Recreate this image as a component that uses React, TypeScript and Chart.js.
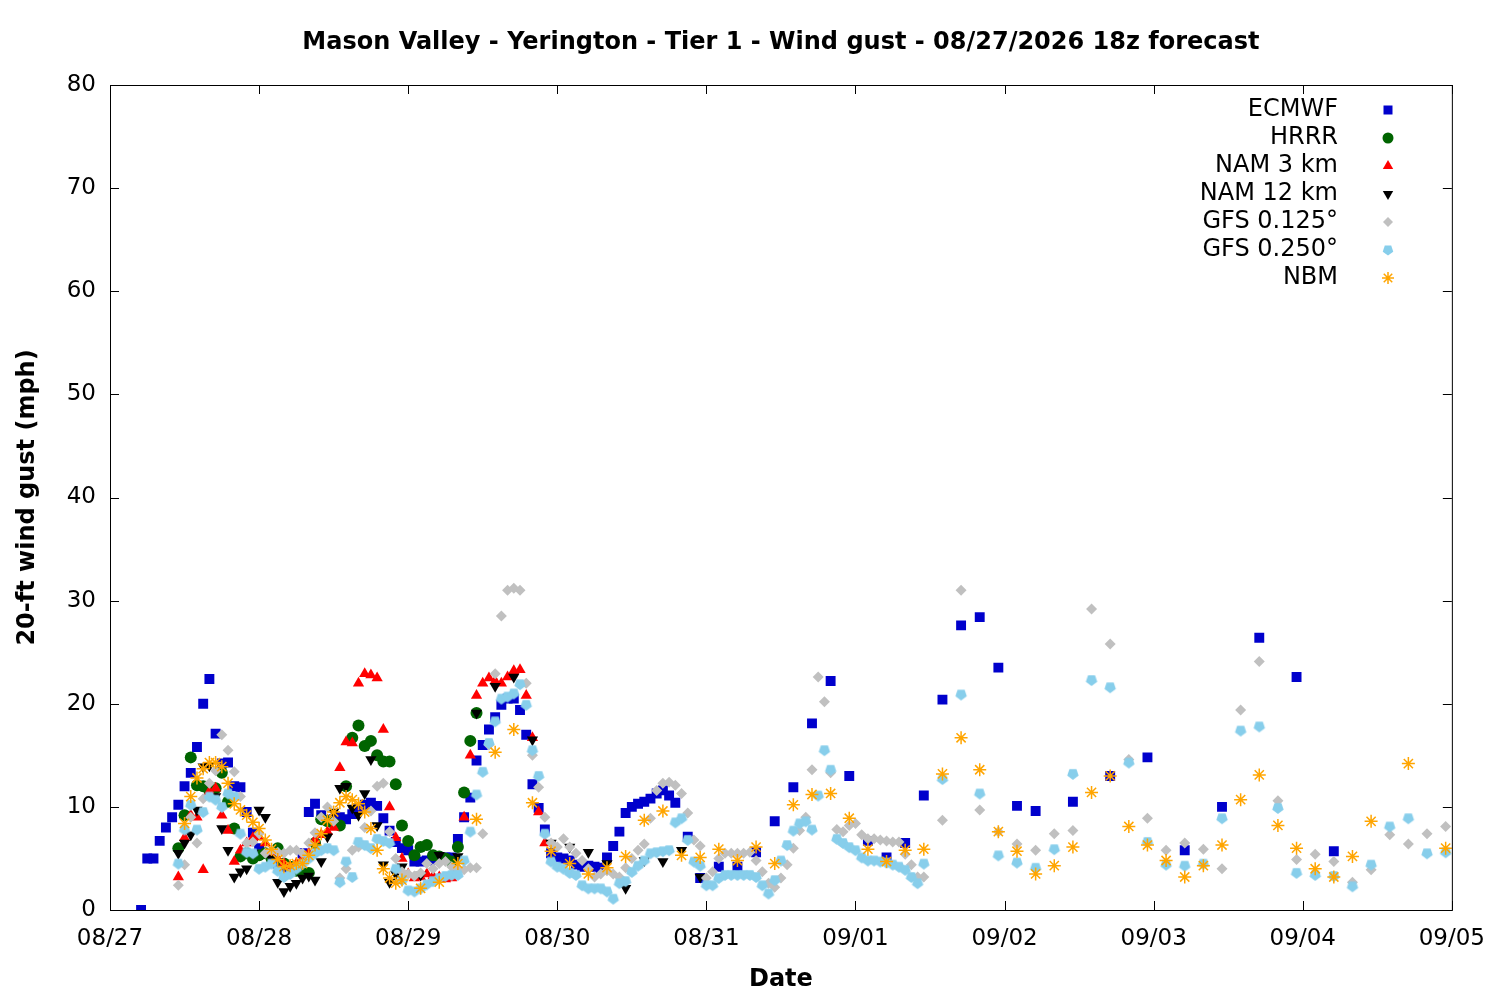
import { useEffect, useRef } from "react"
import { Chart, registerables } from "chart.js"

Chart.register(...registerables)

// x axis is hours since 08/27 00
const dateLabels = ["08/27", "08/28", "08/29", "08/30", "08/31", "09/01", "09/02", "09/03", "09/04", "09/05"]
const title = "Mason Valley - Yerington - Tier 1 - Wind gust - 08/27/2026 18z forecast"

const hourly = (a: number, b: number) => steps(a, b, 1)
function steps(a: number, b: number, s: number) {
  const out: number[] = []
  for (let h = a; h <= b; h += s) out.push(h)
  return out
}

const ecmwfHours = [5, ...hourly(6, 91), 93, 95, ...steps(98, 149, 3), ...steps(155, 197, 6)]
const ecmwfGust = [
  0,
  5, 5, 6.7, 8, 9, 10.2, 12, 13.3, 15.8, 20, 22.4, 17.1, 14.2, 14.3, 12, 11.9, 9.5, 7.5, 6, 5.5,
  5, 4.5, 4.2, 4, 4.2, 5.5, 9.5, 10.3, 9.2, 8.7,
  8.8, 9, 8.8, 9.3, 9.8, 10.2, 10.4, 10.1, 8.9, 7.7,
  6.6, 6, 5.8, 4.7, 4.7, 4.8, 4.9, 5, 5.1, 5.1,
  6.9, 9, 10.9, 14.5, 16, 17.5, 18.7, 19.9, 20.5, 20.5,
  19.4, 17, 12.2, 9.9, 7.8, 5.5, 5.1, 5, 4.8, 4.4,
  4.2, 4.3, 4.2, 4.1, 5.1, 6.2, 7.6, 9.4, 10, 10.3,
  10.5, 10.8, 11.3, 11.6, 11.1, 10.4,
  7.1, 3.1,
  4.2, 4.2, 5.6, 8.6, 11.9, 18.1, 22.2, 13, 6.7, 5.1, 6.5, 11.1, 20.4, 27.6, 28.4, 23.5, 10.1, 9.6,
  10.5, 13, 14.8, 5.8, 10, 26.4, 22.6, 5.7,
]

const hrrrHours = hourly(11, 59)
const hrrrGust = [
  6, 9.2, 14.8, 12.1, 12, 11.6, 11.8, 13.3, 10.5, 7.9,
  5.2, 5.5, 5, 5.3, 5.5, 5, 6, 4.5, 4.2, 3.8,
  3.6, 3.6, 6.5, 8.8, 8.6, 8.4, 8.2, 12, 16.7, 17.9,
  15.9, 16.4, 15, 14.4, 14.4, 12.2, 8.2, 6.7, 5.3, 6.1,
  6.3, 5.3, 5.2, 5, 4.7, 6.1, 11.4, 16.4, 19.1,
]

const nam3Hours = hourly(11, 70)
const nam3Gust = [
  3.2, 7, 9.2, 9, 3.9, 11.5, 11.8, 9.2, 7.7, 4.7,
  5.8, 6.5, 7, 7.1, 6.5, 5.5, 5, 4.5, 4.2, 4.5,
  5, 5.5, 6.8, 7.3, 7.6, 8, 13.8, 16.3, 16.2, 22,
  22.9, 22.8, 22.5, 17.5, 10, 7, 5, 3.5, 3.1, 3.2,
  3.5, 3.3, 3.2, 3, 3.1, 4, 9, 15, 20.8, 22,
  22.5, 22.2, 22, 22.6, 23.2, 23.3, 20.8, 16.7, 9.5, 6.5,
]

const nam12Hours = [...hourly(11, 47), ...steps(50, 95, 3)]
const nam12Gust = [
  5.5, 6.5, 7.3, 9.7, 13.9, 14, 11, 7.9, 5.8, 3.2,
  3.7, 4, 5.5, 9.7, 9, 5, 2.7, 1.8, 2.3, 2.6,
  3.1, 3.3, 2.9, 4.7, 7.1, 9.5, 11.8, 12, 9.9, 9.2,
  11.3, 14.6, 8.2, 4.4, 2.7, 3.5, 4.2,
  3.4, 5.3, 5.2, 19.1, 21.7, 22.6, 16.5, 6.5, 6.1, 5.6, 4.5, 2.1, 4.8, 4.7, 5.8, 3.2,
]

const gfs125Hours = [...hourly(11, 131), ...steps(134, 215, 3)]
const gfs125Gust = [
  2.4, 4.4, 9, 6.5, 10.8, 12.3, 13.5, 17, 15.5, 13.4,
  11, 6.5, 6.6, 7.4, 5.5, 5.8, 5.6, 5.5, 5.8, 5.8,
  5.5, 6.5, 7.5, 9, 10, 8.6, 3.1, 4, 5.8, 6.1,
  8, 9.6, 12, 12.3, 7.6, 5, 3.7, 3.5, 3.3, 3.6,
  4.5, 4, 4.5, 4.7, 4.2, 3.9, 3.9, 4.1, 4.1, 7.4,
  16, 22.9, 28.5, 31, 31.2, 31, 22, 15, 11.9, 9,
  6.5, 6.1, 6.9, 6.1, 5.5, 4.8, 4, 3.2, 3.5, 3.8,
  3.5, 3.2, 4.1, 5, 5.8, 6.4, 8.9, 11.6, 12.3, 12.4,
  12.1, 11.3, 9.4, 6.8, 6.2, 3.1, 3.7, 5, 5.5, 5.5,
  5.5, 5.5, 5.6, 4.8, 3.7, 2.6, 2.2, 3.1, 4.4, 6,
  7.7, 9, 13.6, 22.6, 20.2, 13.3, 7.8, 7.6, 8.2, 8.4,
  7.3, 6.9, 6.9, 6.8, 6.7, 6.6, 6.6, 5.4, 4.4, 3.2,
  3.2,
  8.7, 31, 9.7, 7.6, 6.4, 5.8, 7.4, 7.7, 29.2, 25.8, 14.6, 8.9, 5.8, 6.5,
  5.9, 4, 19.4, 24.1, 10.6, 4.9, 5.4, 4.7, 2.7, 3.9, 7.3, 6.4, 7.4, 8.1,
]

const gfs250Hours = [...hourly(11, 131), ...steps(134, 215, 3)]
const gfs250Gust = [
  4.5, 7.8, 10.2, 7.8, 9.5, 11, 10.7, 10, 11.3, 11,
  7.4, 5.6, 5.5, 4, 4.2, 4.5, 3.8, 3.2, 3.5, 4,
  4.5, 5, 5.5, 5.8, 6, 5.8, 2.7, 4.7, 3.2, 6.6,
  6.3, 6, 6.9, 6.7, 6.5, 4, 2.9, 1.9, 1.8, 2.1,
  2.5, 2.8, 3.1, 3.3, 3.4, 3.4, 4.8, 7.6, 11.2, 13.4,
  16.2, 18.3, 20.5, 20.7, 21, 21.9, 19.9, 15.5, 13, 7.4,
  4.7, 4.2, 4, 3.6, 3.4, 2.4, 2.1, 2.1, 2.1, 1.8,
  1.1, 2.6, 2.8, 3.7, 4.3, 4.8, 5.5, 5.6, 5.7, 5.8,
  8.5, 8.9, 6.8, 4.7, 4.3, 2.4, 2.4, 3.1, 3.4, 3.4,
  3.4, 3.4, 3.4, 3.2, 2.4, 1.6, 2.9, 4.8, 6.3, 7.7,
  8.4, 8.6, 7.8, 11.1, 15.5, 13.6, 6.9, 6.5, 6.1, 5.8,
  5.1, 4.8, 4.8, 4.7, 4.6, 4.4, 4.2, 3.9, 3.2, 2.6,
  4.5,
  12.7, 20.9, 11.3, 5.3, 4.6, 4.1, 5.9, 13.2, 22.3, 21.6, 14.3, 6.6, 4.4, 4.3,
  4.5, 8.9, 17.4, 17.8, 9.9, 3.6, 3.4, 3.3, 2.3, 4.4, 8.1, 8.9, 5.5, 5.6,
]

const nbmHours = [...hourly(12, 46), ...steps(47, 203, 3), 209, 215]
const nbmGust = [
  8.4, 11, 12.8, 13.7, 14.3, 14.3, 13.9, 12.3, 10.3, 9.7,
  9.2, 8.5, 7.9, 6.8, 5.9, 4.9, 4.2, 4.3, 4.5, 4.5,
  5.3, 6.3, 7.4, 8.7, 9.5, 10.4, 11, 10.7, 10.3, 9.5,
  7.9, 5.8, 4, 3.1, 2.6,
  2.9, 2.1, 2.7, 4.5, 8.8, 15.3, 17.5, 10.4, 5.7, 4.5,
  3.5, 4.1, 5.2, 8.7, 9.6, 5.3, 5.1, 5.9, 4.8, 6.1,
  4.5, 10.2, 11.2, 11.3, 8.9, 5.9, 4.7, 5.8, 5.9, 13.2,
  16.7, 13.6, 7.6, 5.7, 3.5, 4.3, 6.1, 11.4, 13, 8.1,
  6.3, 4.8, 3.2, 4.3, 6.3, 10.7, 13.1, 8.2, 6, 4,
  3.2, 5.2, 8.6,
  14.2, 6,
]

const FONT = "'DejaVu Sans', 'Liberation Sans', sans-serif"

type Series = {
  label: string
  hours: number[]
  gust: number[]
  color: string
  style: string
}

const series: Series[] = [
  { label: "ECMWF", hours: ecmwfHours, gust: ecmwfGust, color: "#0000cc", style: "square" },
  { label: "HRRR", hours: hrrrHours, gust: hrrrGust, color: "#006400", style: "circle" },
  { label: "NAM 3 km", hours: nam3Hours, gust: nam3Gust, color: "#ff0000", style: "up" },
  { label: "NAM 12 km", hours: nam12Hours, gust: nam12Gust, color: "#000000", style: "down" },
  { label: "GFS 0.125°", hours: gfs125Hours, gust: gfs125Gust, color: "#c0c0c0", style: "diamond" },
  { label: "GFS 0.250°", hours: gfs250Hours, gust: gfs250Gust, color: "#87ceeb", style: "pentagon" },
  { label: "NBM", hours: nbmHours, gust: nbmGust, color: "#ffa500", style: "star" },
]

function pentagonPath(ctx: CanvasRenderingContext2D, x: number, y: number, r: number) {
  ctx.beginPath()
  for (let i = 0; i < 5; i++) {
    const a = Math.PI / 2 + (i * 2 * Math.PI) / 5
    const px = x + Math.cos(a) * r
    const py = y + Math.sin(a) * r
    if (i === 0) ctx.moveTo(px, py)
    else ctx.lineTo(px, py)
  }
  ctx.closePath()
}

function makePentagon(color: string, r: number) {
  const size = Math.ceil(r * 2) + 2
  const c = document.createElement("canvas")
  c.width = size
  c.height = size
  const ctx = c.getContext("2d")!
  ctx.fillStyle = color
  pentagonPath(ctx, size / 2, size / 2, r)
  ctx.fill()
  return c
}

// draws one legend symbol by hand
function drawSymbol(ctx: CanvasRenderingContext2D, s: Series, x: number, y: number) {
  ctx.save()
  ctx.fillStyle = s.color
  ctx.strokeStyle = s.color
  ctx.beginPath()
  if (s.style === "square") {
    ctx.rect(x - 4.5, y - 4.5, 9, 9)
    ctx.fill()
  } else if (s.style === "circle") {
    ctx.arc(x, y, 5.5, 0, Math.PI * 2)
    ctx.fill()
  } else if (s.style === "up") {
    ctx.moveTo(x, y - 6)
    ctx.lineTo(x + 5.2, y + 3)
    ctx.lineTo(x - 5.2, y + 3)
    ctx.closePath()
    ctx.fill()
  } else if (s.style === "down") {
    ctx.moveTo(x, y + 6)
    ctx.lineTo(x + 5.2, y - 3)
    ctx.lineTo(x - 5.2, y - 3)
    ctx.closePath()
    ctx.fill()
  } else if (s.style === "diamond") {
    ctx.moveTo(x, y - 5)
    ctx.lineTo(x + 5, y)
    ctx.lineTo(x, y + 5)
    ctx.lineTo(x - 5, y)
    ctx.closePath()
    ctx.fill()
  } else if (s.style === "pentagon") {
    pentagonPath(ctx, x, y, 5.5)
    ctx.fill()
  } else {
    ctx.lineWidth = 1.5
    for (let i = 0; i < 4; i++) {
      const a = (i * Math.PI) / 4
      ctx.moveTo(x - Math.cos(a) * 6, y - Math.sin(a) * 6)
      ctx.lineTo(x + Math.cos(a) * 6, y + Math.sin(a) * 6)
    }
    ctx.stroke()
  }
  ctx.restore()
}

const decorPlugin = {
  id: "decor",
  afterDraw(chart: any) {
    const { ctx, chartArea } = chart
    const { left, right, top, bottom } = chartArea
    const xs = chart.scales.x
    const ys = chart.scales.y
    ctx.save()
    ctx.strokeStyle = "#000"
    ctx.lineWidth = 1
    ctx.strokeRect(left + 0.5, top + 0.5, right - left, bottom - top)

    // inward tick marks on all four sides
    ctx.beginPath()
    for (let v = 0; v <= 80; v += 10) {
      const y = Math.round(ys.getPixelForValue(v)) + 0.5
      ctx.moveTo(left, y)
      ctx.lineTo(left + 9, y)
      ctx.moveTo(right, y)
      ctx.lineTo(right - 9, y)
    }
    for (let h = 0; h <= 216; h += 24) {
      const x = Math.round(xs.getPixelForValue(h)) + 0.5
      ctx.moveTo(x, bottom)
      ctx.lineTo(x, bottom - 9)
      ctx.moveTo(x, top)
      ctx.lineTo(x, top + 9)
    }
    ctx.stroke()

    ctx.fillStyle = "#000"
    ctx.textAlign = "center"
    ctx.textBaseline = "middle"
    ctx.font = `bold 24px ${FONT}`
    ctx.fillText(title, (left + right) / 2, 43)
    ctx.fillText("Date", (left + right) / 2, 980)
    ctx.save()
    ctx.translate(28, (top + bottom) / 2)
    ctx.rotate(-Math.PI / 2)
    ctx.fillText("20-ft wind gust (mph)", 0, 0)
    ctx.restore()

    // key, gnuplot style: text right-aligned, symbol to the right
    ctx.font = `24px ${FONT}`
    ctx.textAlign = "right"
    series.forEach((s, i) => {
      const y = 110 + i * 28
      ctx.fillStyle = "#000"
      ctx.fillText(s.label, 1338, y)
      drawSymbol(ctx, s, 1388, y)
    })
    ctx.restore()
  },
}

export default function App() {
  const canvasRef = useRef<HTMLCanvasElement>(null)

  useEffect(() => {
    const canvas = canvasRef.current
    if (!canvas) return
    const pentagon = makePentagon("#87ceeb", 6)

    const datasets = series.map((s, i) => {
      const base: any = {
        label: s.label,
        data: s.hours.map((h, k) => ({ x: h, y: s.gust[k] })),
        showLine: false,
        backgroundColor: s.color,
        borderColor: s.color,
        borderWidth: 0,
        order: series.length - i,
      }
      if (s.style === "square") Object.assign(base, { pointStyle: "rect", pointRadius: 7 })
      if (s.style === "circle") Object.assign(base, { pointStyle: "circle", pointRadius: 6 })
      if (s.style === "up") Object.assign(base, { pointStyle: "triangle", pointRadius: 6.5 })
      if (s.style === "down") Object.assign(base, { pointStyle: "triangle", pointRadius: 6.5, rotation: 180 })
      if (s.style === "diamond") Object.assign(base, { pointStyle: "rectRot", pointRadius: 5.5 })
      if (s.style === "pentagon") Object.assign(base, { pointStyle: pentagon, pointRadius: 6 })
      if (s.style === "star") Object.assign(base, { pointStyle: "star", pointRadius: 6.5, borderWidth: 1.5 })
      return base
    })

    const chart = new Chart(canvas, {
      type: "scatter",
      data: { datasets },
      options: {
        responsive: false,
        animation: false,
        devicePixelRatio: 1,
        layout: { padding: { top: 85, right: 46, left: 0, bottom: 0 } },
        plugins: {
          legend: { display: false },
          tooltip: { enabled: false },
          title: { display: false },
        },
        scales: {
          x: {
            type: "linear",
            min: 0,
            max: 216,
            afterFit: (s: any) => {
              s.height = 90
            },
            grid: { display: false, drawTicks: false },
            border: { display: false },
            ticks: {
              stepSize: 24,
              autoSkip: false,
              maxRotation: 0,
              padding: 15,
              color: "#000",
              font: { family: FONT, size: 23 },
              callback: (v: any) => dateLabels[Math.round(Number(v) / 24)],
            },
          },
          y: {
            min: 0,
            max: 80,
            afterFit: (s: any) => {
              s.width = 110
            },
            grid: { display: false, drawTicks: false },
            border: { display: false },
            ticks: {
              stepSize: 10,
              padding: 14,
              color: "#000",
              font: { family: FONT, size: 23 },
            },
          },
        },
      } as any,
      plugins: [decorPlugin],
    })

    return () => chart.destroy()
  }, [])

  return (
    <div style={{ position: "absolute", left: 0, top: 0, width: 1500, height: 1000, background: "#fff" }}>
      <canvas ref={canvasRef} width={1500} height={1000} style={{ display: "block", width: 1500, height: 1000 }} />
    </div>
  )
}
